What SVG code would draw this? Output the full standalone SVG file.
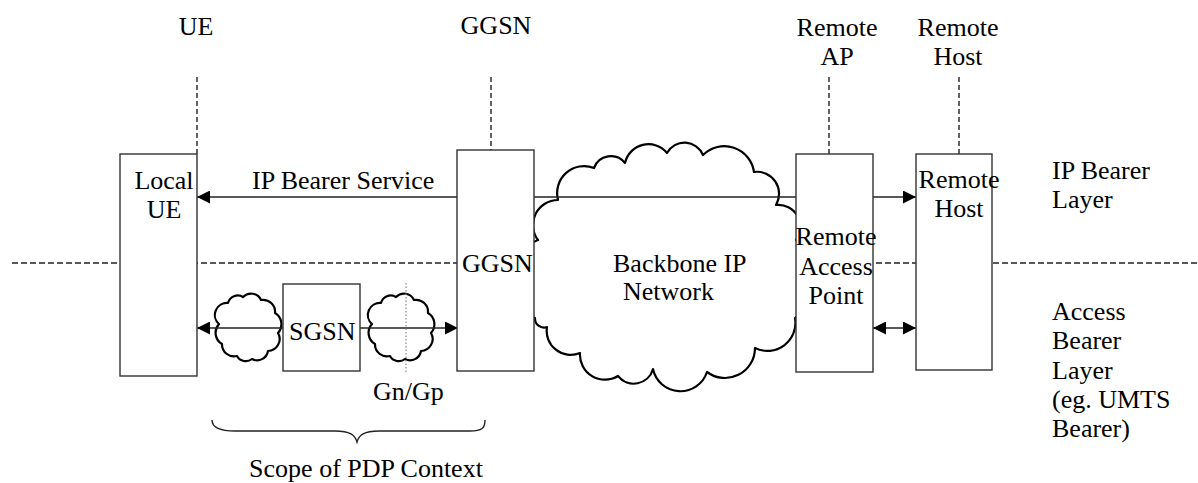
<svg xmlns="http://www.w3.org/2000/svg" width="1198" height="483" viewBox="0 0 1198 483" font-family="'Liberation Serif', 'DejaVu Serif', serif">
<style>
text{font-family:'Liberation Serif','DejaVu Serif',serif;font-size:26px;fill:#000}
.c{text-anchor:middle}
.box{fill:#fff;stroke:#333;stroke-width:1.4}
.dash{stroke:#222;stroke-width:1.4;stroke-dasharray:6,3;fill:none}
.vdash{stroke:#222;stroke-width:1.4;stroke-dasharray:5,3;fill:none}
.ln{stroke:#222;stroke-width:1.4;fill:none}
.cloud{fill:#fff;stroke:#000;stroke-width:2.2;stroke-linejoin:round}
.dot{stroke:#888;stroke-width:1.2;stroke-dasharray:1.5,2;fill:none}
</style>
<defs>
<marker id="ah" viewBox="0 0 13 13" refX="13" refY="6.5" markerWidth="13" markerHeight="13" markerUnits="userSpaceOnUse" orient="auto-start-reverse">
<path d="M0,0 L13,6.5 L0,13 Z" fill="#000"/>
</marker>
<path id="smallcloud" class="cloud" d="M-6,-30 A11,11 0 0 1 12,-27 A12,12 0 0 1 26,-14 A13,13 0 0 1 29,6 A12,12 0 0 1 19,24 A11,11 0 0 1 3,32 A10,10 0 0 1 -12,29 A12,12 0 0 1 -27,17 A13,13 0 0 1 -30,-3 A12,12 0 0 1 -21,-24 A10,10 0 0 1 -6,-30 Z"/>
</defs>

<g id="layer-divider">
<line class="dash" x1="12" y1="263" x2="1198" y2="263"/>
</g>

<g id="top-labels">
<text class="c" x="196" y="35">UE</text>
<text class="c" x="496" y="34">GGSN</text>
<text class="c" x="837" y="36">Remote</text>
<text class="c" x="837" y="65">AP</text>
<text class="c" x="958" y="36">Remote</text>
<text class="c" x="958" y="65">Host</text>
<line class="vdash" x1="197" y1="77" x2="197" y2="154"/>
<line class="vdash" x1="491" y1="77" x2="491" y2="150"/>
<line class="vdash" x1="829" y1="77" x2="829" y2="154"/>
<line class="vdash" x1="959" y1="77" x2="959" y2="154"/>
</g>

<g id="backbone-cloud">
<path class="cloud" d="M538,240 A25,25 0 0 1 558,200 A27,27 0 0 1 594,168 A18,18 0 0 1 625,163 A24,24 0 0 1 667,153 A20,20 0 0 1 703,155 A30,30 0 0 1 754,172 A22,22 0 0 1 776,205 A22,22 0 0 1 796,240 A25,25 0 0 1 798,285 A20,20 0 0 1 795,318 A28,28 0 0 1 755,348 A30,30 0 0 1 707,372 A28,28 0 0 1 653,369 A20,20 0 0 1 618,376 A25,25 0 0 1 580,353 A24,24 0 0 1 547,327 A9,9 0 0 1 535,318 A24,24 0 0 1 532,275 A20,20 0 0 1 538,240 Z"/>
<text x="613" y="272">Backbone IP</text>
<text x="623" y="300">Network</text>
</g>

<g id="access-clouds">
<use href="#smallcloud" x="249" y="327"/>
<use href="#smallcloud" x="402" y="327"/>
</g>

<g id="connectors">
<line class="ln" x1="458" y1="197" x2="197" y2="197" marker-end="url(#ah)"/>
<line class="ln" x1="534" y1="197" x2="796" y2="197"/>
<line class="ln" x1="873" y1="197" x2="916" y2="197" marker-end="url(#ah)"/>
<line class="ln" x1="283" y1="328" x2="197" y2="328" marker-end="url(#ah)"/>
<line class="ln" x1="360" y1="328" x2="458" y2="328" marker-end="url(#ah)"/>
<line class="ln" x1="873" y1="328" x2="916" y2="328" marker-start="url(#ah)" marker-end="url(#ah)"/>
<line class="dot" x1="406" y1="283" x2="406" y2="373"/>
<text x="252" y="189">IP Bearer Service</text>
<text x="373" y="400">Gn/Gp</text>
</g>

<g id="local-ue">
<rect class="box" x="120" y="154" width="77" height="222"/>
<text class="c" x="164" y="189">Local</text>
<text class="c" x="164" y="218">UE</text>
</g>

<g id="ggsn">
<rect class="box" x="457" y="150" width="77" height="221"/>
<text x="462" y="272">GGSN</text>
</g>

<g id="sgsn">
<rect class="box" x="283" y="284" width="77" height="87"/>
<text x="289" y="340">SGSN</text>
</g>

<g id="remote-ap">
<rect class="box" x="796" y="154" width="77" height="218"/>
<text class="c" x="836" y="245">Remote</text>
<text class="c" x="836" y="275">Access</text>
<text class="c" x="836" y="304">Point</text>
</g>

<g id="remote-host">
<rect class="box" x="916" y="154" width="76" height="216"/>
<text class="c" x="959" y="188">Remote</text>
<text class="c" x="959" y="217">Host</text>
</g>

<g id="layer-labels">
<text x="1052" y="179">IP Bearer</text>
<text x="1052" y="208">Layer</text>
<text x="1052" y="320">Access</text>
<text x="1052" y="349">Bearer</text>
<text x="1052" y="379">Layer</text>
<text x="1052" y="408">(eg. UMTS</text>
<text x="1052" y="437">Bearer)</text>
</g>

<g id="pdp-scope">
<path class="ln" d="M212,420 C212,428 220,431 235,431 L335,431 C350,431 355,435 357,442 C359,435 364,431 379,431 L470,431 C482,431 485,428 485,420"/>
<text class="c" x="366" y="477">Scope of PDP Context</text>
</g>
</svg>
